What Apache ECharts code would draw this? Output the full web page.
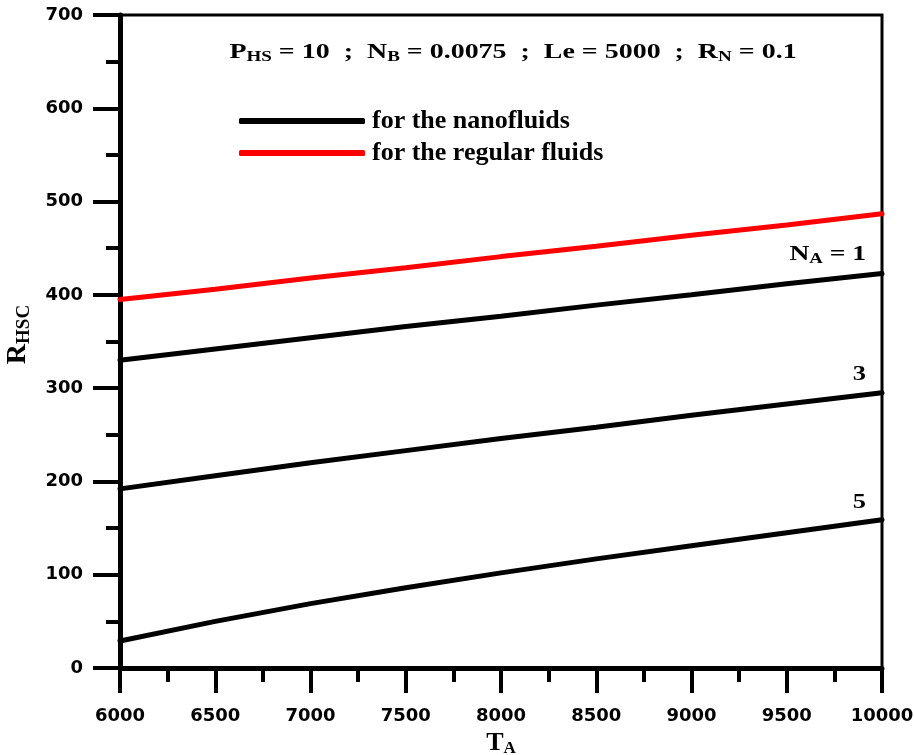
<!DOCTYPE html>
<html>
<head>
<meta charset="utf-8">
<script src="https://cdn.jsdelivr.net/npm/echarts@6/dist/echarts.min.js"></script>
<style>
  html, body { margin: 0; padding: 0; background: #fff; }
  #chart { width: 914px; height: 755px; }
</style>
</head>
<body>
<div id="chart"></div>
<script>
// T_A values
const tA = [6000, 6500, 7000, 7500, 8000, 8500, 9000, 9500, 10000];
// R_HSC, regular fluid
const regular = [395, 406, 418, 429, 441, 452, 464, 475, 487];
// R_HSC, nanofluid, N_A = 1, 3, 5
const na1 = [330, 342, 354, 366, 377, 389, 400, 412, 423];
const na3 = [192, 206, 220, 233, 246, 258, 271, 283, 295];
const na5 = [29, 50, 69, 86, 102, 117, 131, 145, 159];

const pairs = (ys) => tA.map((x, i) => [x, ys[i]]);

const serif = "'Liberation Serif', 'Times New Roman', serif";
const sans = "'DejaVu Sans', sans-serif";

const richSerif = {
  a: { fontFamily: serif, fontWeight: 'bold', fontSize: 22, fill: '#000' },
  s: { fontFamily: serif, fontWeight: 'bold', fontSize: 15, fill: '#000', padding: [10, 0, 0, 0] }
};

const chart = echarts.init(document.getElementById('chart'));

function lineSeries(name, ys, color) {
  return {
    name: name,
    type: 'line',
    data: pairs(ys),
    showSymbol: false,
    symbol: 'none',
    lineStyle: { color: color, width: 5, cap: 'round' },
    itemStyle: { color: color },
    silent: true,
    z: 3
  };
}

chart.setOption({
  backgroundColor: '#fff',
  animation: false,
  grid: {
    left: 120, right: 32, top: 15, bottom: 87,
    outerBoundsMode: 'none',
    containLabel: false,
    show: true, borderColor: '#000', borderWidth: 3
  },
  legend: {
    data: [
      { name: 'for the nanofluids', icon: 'roundRect' },
      { name: 'for the regular fluids', icon: 'roundRect' }
    ],
    orient: 'vertical',
    left: 234,
    top: 103,
    itemWidth: 126,
    itemHeight: 6,
    itemGap: 6,
    textStyle: { fontFamily: serif, fontWeight: 'bold', fontSize: 26, color: '#000', padding: [0, 0, 0, 2] }
  },
  xAxis: {
    type: 'value',
    min: 6000, max: 10000, interval: 500,
    name: '{a|T}{s|A}',
    nameLocation: 'middle',
    nameGap: 59,
    nameTextStyle: {
      rich: {
        a: { fontFamily: serif, fontWeight: 'bold', fontSize: 26, color: '#000' },
        s: { fontFamily: serif, fontWeight: 'bold', fontSize: 17, color: '#000', padding: [12, 0, 0, 0] }
      }
    },
    axisLine: { lineStyle: { color: '#000', width: 5 } },
    axisTick: { length: 25, lineStyle: { color: '#000', width: 4 } },
    minorTick: { show: true, splitNumber: 2, length: 14, lineStyle: { color: '#000', width: 4 } },
    splitLine: { show: false },
    axisLabel: {
      margin: 39, fontFamily: sans, fontWeight: 'bold', fontSize: 18, color: '#000',
      formatter: (v) => String(v)
    }
  },
  yAxis: {
    type: 'value',
    min: 0, max: 700, interval: 100,
    name: '{a|R}{s|HSC}',
    nameLocation: 'middle',
    nameGap: 86,
    nameRotate: 90,
    nameTextStyle: {
      padding: [0, 0, 0, 14],
      rich: {
        a: { fontFamily: serif, fontWeight: 'bold', fontSize: 28, color: '#000' },
        s: { fontFamily: serif, fontWeight: 'bold', fontSize: 19, color: '#000', padding: [13, 0, 0, 0] }
      }
    },
    axisLine: { lineStyle: { color: '#000', width: 5 } },
    axisTick: { length: 27, lineStyle: { color: '#000', width: 4 } },
    minorTick: { show: true, splitNumber: 2, length: 14, lineStyle: { color: '#000', width: 4 } },
    splitLine: { show: false },
    axisLabel: {
      margin: 37, fontFamily: sans, fontWeight: 'bold', fontSize: 18, color: '#000',
      formatter: (v) => String(v)
    }
  },
  graphic: [
    {
      type: 'text', x: 513, y: 40, scaleX: 1.27,
      style: {
        text: '{a|P}{s|HS}{a| = 10  ;  N}{s|B}{a| = 0.0075  ;  Le = 5000  ;  R}{s|N}{a| = 0.1}',
        align: 'center',
        rich: richSerif
      }
    },
    {
      type: 'text', x: 866, y: 242, scaleX: 1.25,
      style: { text: '{a|N}{s|A}{a| = 1}', align: 'right', rich: richSerif }
    },
    {
      type: 'text', x: 866, y: 363, scaleX: 1.2,
      style: { text: '{a|3}', align: 'right', rich: richSerif }
    },
    {
      type: 'text', x: 866, y: 491, scaleX: 1.2,
      style: { text: '{a|5}', align: 'right', rich: richSerif }
    }
  ],
  series: [
    lineSeries('for the regular fluids', regular, '#ff0000'),
    lineSeries('for the nanofluids', na1, '#000'),
    lineSeries('for the nanofluids', na3, '#000'),
    lineSeries('for the nanofluids', na5, '#000')
  ]
});
</script>
</body>
</html>
